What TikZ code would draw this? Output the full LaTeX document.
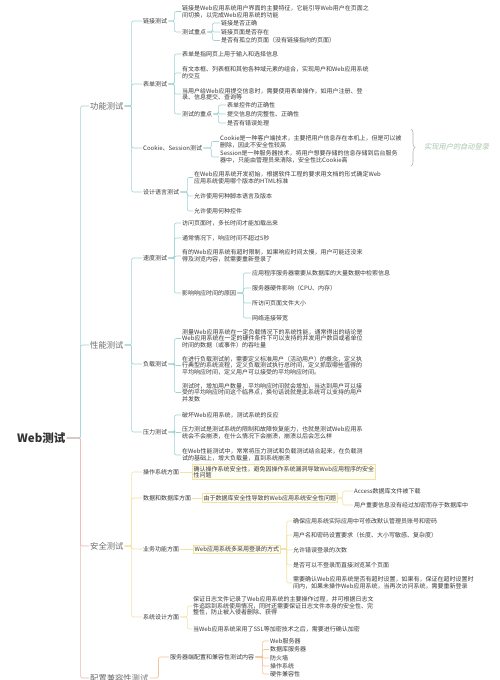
\documentclass[tikz,border=0pt]{standalone}
\usepackage{fontspec}
\newfontfamily\cjk{Noto Sans CJK SC}
\newfontfamily\cjkslant[FakeSlant=0.2]{Noto Sans CJK SC}
\usetikzlibrary{decorations.pathreplacing}
\definecolor{tealline}{HTML}{9FD2D4}
\definecolor{pinkline}{HTML}{E9B7B2}
\definecolor{yellowline}{HTML}{F3E2A2}
\definecolor{orangeline}{HTML}{F2C596}
\definecolor{leaftext}{HTML}{3A3A3A}
\definecolor{maintext}{HTML}{6A6A6A}
\definecolor{notetext}{HTML}{A9C6AA}
\definecolor{boxfill}{HTML}{FFFEF4}

\begin{document}
\begin{tikzpicture}[x=1pt, y=-1pt]
        \tikzstyle{root}=[anchor=west, inner sep=1pt, font=\cjk\fontsize{11.5}{12}\selectfont\bfseries, text=black!80];
        \tikzstyle{topic}=[anchor=west, inner sep=1pt, font=\cjk\fontsize{8.3}{9}\selectfont, text=maintext];
        \tikzstyle{leaf}=[anchor=west, inner sep=1pt, align=left, font=\cjk\fontsize{6}{6.6}\selectfont, text=leaftext];
        \tikzstyle{hbox}=[leaf, draw=yellowline, fill=boxfill, inner sep=1.5pt];
        \tikzstyle{tline}=[draw=tealline, line width=0.6pt, rounded corners=2pt];
        \tikzstyle{pline}=[draw=pinkline, line width=0.6pt, rounded corners=2pt];
        \tikzstyle{yline}=[draw=yellowline, line width=0.6pt, rounded corners=2pt];
        \tikzstyle{oline}=[draw=orangeline, line width=0.6pt, rounded corners=2pt];

        \useasboundingbox (0,0) rectangle (500,680);
        \fill[white] (0,0) rectangle (500,680);

        % root and main branches
        \node[root] (r) at (16,438) {Web测试};
        \node[topic] (f) at (89,106) {功能测试};
        \node[topic] (p) at (89,345) {性能测试};
        \node[topic] (s) at (89,546) {安全测试};
        \node[topic] (c) at (89,678) {配置兼容性测试};

        \draw[tline] (r.east) -- ++(14,0) |- (f.west);
        \draw[tline] (r.east) -- ++(14,0) |- (p.west);
        \draw[pline] (r.east) -- ++(14,0) |- (s.west);
        \draw[pline] (r.east) -- ++(14,0) |- (c.west);

        % 功能测试
        \node[leaf] (lk) at (142,21) {链接测试};
        \node[leaf] (bd) at (142,84) {表单测试};
        \node[leaf] (ck) at (142,148) {Cookie、Session测试};
        \node[leaf] (sj) at (142,192) {设计语言测试};

        \draw[tline] (f.east) -- ++(7,0) |- (lk.west);
        \draw[tline] (f.east) -- ++(7,0) |- (bd.west);
        \draw[tline] (f.east) -- ++(7,0) |- (ck.west);
        \draw[tline] (f.east) -- ++(7,0) |- (sj.west);

        \node[leaf] (lk1) at (181,11.5) {链接是Web应用系统用户界面的主要特征，它能引导Web用户在页面之\\间切换，以完成Web应用系统的功能};
        \node[leaf] (lk2) at (181,32) {测试重点};
        \node[leaf] (lk21) at (220,23) {链接是否正确};
        \node[leaf] (lk22) at (220,32) {链接页面是否存在};
        \node[leaf] (lk23) at (220,40.5) {是否有孤立的页面（没有链接指向的页面）};

        \draw[tline] (lk.east) -- ++(6,0) |- (lk1.west);
        \draw[tline] (lk.east) -- ++(6,0) |- (lk2.west);
        \draw[tline] (lk2.east) -- ++(5,0) |- (lk21.west);
        \draw[tline] (lk2.east) -- ++(5,0) |- (lk22.west);
        \draw[tline] (lk2.east) -- ++(5,0) |- (lk23.west);

        \node[leaf] (bd1) at (181,54) {表单是指网页上用于输入和选择信息};
        \node[leaf] (bd2) at (181,73) {有文本框、列表框和其他各种域元素的组合，实现用户和Web应用系统\\的交互};
        \node[leaf] (bd3) at (181,94) {当用户给Web应用提交信息时，需要使用表单操作，如用户注册、登\\录、信息提交、查询等};
        \node[leaf] (bd4) at (181,114) {测试的重点};
        \node[leaf] (bd41) at (226,105) {表单控件的正确性};
        \node[leaf] (bd42) at (226,114) {提交信息的完整性、正确性};
        \node[leaf] (bd43) at (226,123) {是否有错误处理};

        \draw[tline] (bd.east) -- ++(6,0) |- (bd1.west);
        \draw[tline] (bd.east) -- ++(6,0) |- (bd2.west);
        \draw[tline] (bd.east) -- ++(6,0) |- (bd3.west);
        \draw[tline] (bd.east) -- ++(6,0) |- (bd4.west);
        \draw[tline] (bd4.east) -- ++(5,0) |- (bd41.west);
        \draw[tline] (bd4.east) -- ++(5,0) |- (bd42.west);
        \draw[tline] (bd4.east) -- ++(5,0) |- (bd43.west);

        \node[leaf] (ck1) at (219,141.5) {Cookie是一种客户端技术，主要把用户信息存在本机上，但是可以被\\删除，因此不安全性较高};
        \node[leaf] (ck2) at (219,157) {Session是一种服务器技术，将用户想要存储的信息存储到后台服务\\器中，只能由管理员来清除，安全性比Cookie高};
        \coordinate (bt) at (411,129);
        \coordinate (bb) at (411,166);
        \node[anchor=west, inner sep=1pt, font=\cjkslant\fontsize{7.2}{8}\selectfont, text=notetext] (note) at (423,147) {实现用户的自动登录};

        \draw[tline] (ck.east) -- ++(8,0) |- (ck1.west);
        \draw[tline] (ck.east) -- ++(8,0) |- (ck2.west);
        \draw[decorate, decoration={brace, amplitude=4pt}, draw=gray!60, line width=0.6pt] (bt) -- (bb);

        \node[leaf] (sj1) at (193,177.5) {在Web应用系统开发初始，根据软件工程的要求用文档的形式确定Web\\应用系统使用哪个版本的HTML标准};
        \node[leaf] (sj2) at (193,196) {允许使用何种脚本语言及版本};
        \node[leaf] (sj3) at (193,211) {允许使用何种控件};

        \draw[tline] (sj.east) -- ++(7,0) |- (sj1.west);
        \draw[tline] (sj.east) -- ++(7,0) |- (sj2.west);
        \draw[tline] (sj.east) -- ++(7,0) |- (sj3.west);

        % 性能测试
        \node[leaf] (sd) at (142,258) {速度测试};
        \node[leaf] (fz) at (142,364) {负载测试};
        \node[leaf] (yl) at (142,432) {压力测试};

        \draw[tline] (p.east) -- ++(7,0) |- (sd.west);
        \draw[tline] (p.east) -- ++(7,0) |- (fz.west);
        \draw[tline] (p.east) -- ++(7,0) |- (yl.west);

        \node[leaf] (sd1) at (181,223) {访问页面时，多长时间才能加载出来};
        \node[leaf] (sd2) at (181,238) {通常情况下，响应时间不超过5秒};
        \node[leaf] (sd3) at (181,256) {有的Web应用系统有超时限制，如果响应时间太慢，用户可能还没来\\得及浏览内容，就需要重新登录了};
        \node[leaf] (sd4) at (181,293) {影响响应时间的原因};
        \node[leaf] (sd41) at (251,273) {应用程序服务器需要从数据库的大量数据中检索信息};
        \node[leaf] (sd42) at (251,288) {服务器硬件影响（CPU、内存）};
        \node[leaf] (sd43) at (251,303) {所访问页面文件大小};
        \node[leaf] (sd44) at (251,318) {网络连接带宽};

        \draw[tline] (sd.east) -- ++(6,0) |- (sd1.west);
        \draw[tline] (sd.east) -- ++(6,0) |- (sd2.west);
        \draw[tline] (sd.east) -- ++(6,0) |- (sd3.west);
        \draw[tline] (sd.east) -- ++(6,0) |- (sd4.west);
        \draw[tline] (sd4.east) -- ++(6,0) |- (sd41.west);
        \draw[tline] (sd4.east) -- ++(6,0) |- (sd42.west);
        \draw[tline] (sd4.east) -- ++(6,0) |- (sd43.west);
        \draw[tline] (sd4.east) -- ++(6,0) |- (sd44.west);

        \node[leaf] (fz1) at (181,338.5) {测量Web应用系统在一定负载情况下的系统性能，通常得出的结论是\\Web应用系统在一定的硬件条件下可以支持的并发用户数目或者单位\\时间的数据（或事件）的吞吐量};
        \node[leaf] (fz2) at (181,365.5) {在进行负载测试前，需要定义标准用户（活动用户）的概念，定义执\\行典型的系统流程，定义负载测试执行总时间，定义抓取哪些值得的\\平均响应时间，定义用户可以接受的平均响应时间。};
        \node[leaf] (fz3) at (181,392.5) {测试时，增加用户数量，平均响应时间就会增加，当达到用户可以接\\受的平均响应时间这个临界点，换句话说就是此系统可以支持的用户\\并发数};

        \draw[tline] (fz.east) -- ++(6,0) |- (fz1.west);
        \draw[tline] (fz.east) -- ++(6,0) |- (fz2.west);
        \draw[tline] (fz.east) -- ++(6,0) |- (fz3.west);

        \node[leaf] (yl1) at (181,415) {破坏Web应用系统，测试系统的反应};
        \node[leaf] (yl2) at (181,432.5) {压力测试是测试系统的限制和故障恢复能力，也就是测试Web应用系\\统会不会崩溃，在什么情况下会崩溃，崩溃以后会怎么样};
        \node[leaf] (yl3) at (181,455) {在Web性能测试中，常常将压力测试和负载测试结合起来，在负载测\\试的基础上，增大负载量，直到系统崩溃};

        \draw[tline] (yl.east) -- ++(6,0) |- (yl1.west);
        \draw[tline] (yl.east) -- ++(6,0) |- (yl2.west);
        \draw[tline] (yl.east) -- ++(6,0) |- (yl3.west);

        % 安全测试
        \node[leaf] (os) at (142,472) {操作系统方面};
        \node[leaf] (db) at (142,498) {数据和数据库方面};
        \node[leaf] (yw) at (142,549) {业务功能方面};
        \node[leaf] (xt) at (142,617) {系统设计方面};

        \draw[yline] (s.east) -- ++(7,0) |- (os.west);
        \draw[yline] (s.east) -- ++(7,0) |- (db.west);
        \draw[yline] (s.east) -- ++(7,0) |- (yw.west);
        \draw[yline] (s.east) -- ++(7,0) |- (xt.west);

        \node[hbox] (os1) at (192,472) {确认操作系统安全性，避免因操作系统漏洞导致Web应用程序的安全\\性问题};
        \draw[yline] (os.east) -- (os1.west);

        \node[hbox] (db1) at (202,498) {由于数据库安全性导致的Web应用系统安全性问题};
        \node[leaf] (db11) at (353,491) {Access数据库文件被下载};
        \node[leaf] (db12) at (353,505) {用户重要信息没有经过加密而存于数据库中};

        \draw[yline] (db.east) -- (db1.west);
        \draw[yline] (db1.east) -- ++(5,0) |- (db11.west);
        \draw[yline] (db1.east) -- ++(5,0) |- (db12.west);

        \node[hbox] (yw1) at (193,549) {Web应用系统多采用登录的方式};
        \node[leaf] (yw11) at (292,521) {确保应用系统实际应用中可修改默认管理员账号和密码};
        \node[leaf] (yw12) at (292,535) {用户名和密码设置要求（长度、大小写敏感、复杂度）};
        \node[leaf] (yw13) at (292,550) {允许错误登录的次数};
        \node[leaf] (yw14) at (292,565) {是否可以不登录而直接浏览某个页面};
        \node[leaf] (yw15) at (292,583) {需要确认Web应用系统是否有超时设置，如果有，保证在超时设置时\\间内，如果未操作Web应用系统，当再次访问系统，需要重新登录};

        \draw[yline] (yw.east) -- (yw1.west);
        \draw[yline] (yw1.east) -- ++(6,0) |- (yw11.west);
        \draw[yline] (yw1.east) -- ++(6,0) |- (yw12.west);
        \draw[yline] (yw1.east) -- ++(6,0) |- (yw13.west);
        \draw[yline] (yw1.east) -- ++(6,0) |- (yw14.west);
        \draw[yline] (yw1.east) -- ++(6,0) |- (yw15.west);

        \node[leaf] (xt1) at (192,606) {保证日志文件记录了Web应用系统的主要操作过程，并可根据日志文\\件追踪到系统使用情况，同时还需要保证日志文件本身的安全性、完\\整性，防止被入侵者删除、获得};
        \node[leaf] (xt2) at (192,629) {当Web应用系统采用了SSL等加密技术之后，需要进行确认加密};

        \draw[yline] (xt.east) -- ++(7,0) |- (xt1.west);
        \draw[yline] (xt.east) -- ++(7,0) |- (xt2.west);

        % 配置兼容性测试
        \node[leaf] (pz1) at (169,657) {服务器端配置和兼容性测试内容};
        \node[leaf] (pz11) at (269,641) {Web服务器};
        \node[leaf] (pz12) at (269,649.5) {数据库服务器};
        \node[leaf] (pz13) at (269,658) {防火墙};
        \node[leaf] (pz14) at (269,666) {操作系统};
        \node[leaf] (pz15) at (269,674) {硬件兼容性};

        \draw[oline] (c.east) -- ++(9,0) |- (pz1.west);
        \draw[oline] (pz1.east) -- ++(7,0) |- (pz11.west);
        \draw[oline] (pz1.east) -- ++(7,0) |- (pz12.west);
        \draw[oline] (pz1.east) -- ++(7,0) |- (pz13.west);
        \draw[oline] (pz1.east) -- ++(7,0) |- (pz14.west);
        \draw[oline] (pz1.east) -- ++(7,0) |- (pz15.west);
\end{tikzpicture}
\end{document}
